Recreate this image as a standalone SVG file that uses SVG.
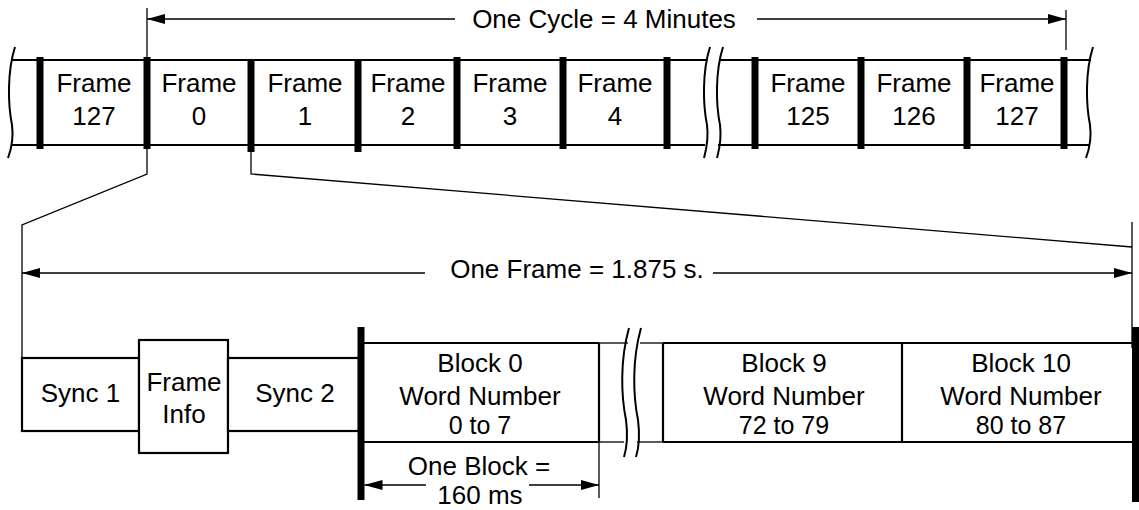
<svg xmlns="http://www.w3.org/2000/svg" width="1139" height="510" viewBox="0 0 1139 510">
<defs>
<style>
text{font-family:"Liberation Sans",Arial,sans-serif;font-size:26px;fill:#000;text-anchor:middle}
.tight{font-size:25px}
.thin{stroke:#000;stroke-width:1.3;fill:none}
.med{stroke:#000;stroke-width:2.2;fill:none}
.bar{stroke:#000;stroke-width:7;fill:none}
.wave{stroke:#000;stroke-width:2;fill:none}
.box{stroke:#000;stroke-width:2.2;fill:#fff}
</style>
<marker id="ah" viewBox="0 0 18 10" refX="18" refY="5" markerWidth="18" markerHeight="10" markerUnits="userSpaceOnUse" orient="auto-start-reverse">
<path d="M0,0 L18,5 L0,10 Z" fill="#000"/>
</marker>
</defs>

<g id="frame-strip">
<line class="med" x1="12" y1="60" x2="707" y2="60"/>
<line class="med" x1="12" y1="145" x2="705" y2="145"/>
<line class="med" x1="720" y1="60" x2="1091" y2="60"/>
<line class="med" x1="718" y1="145" x2="1089" y2="145"/>
<path class="wave" d="M15,47 C7,72 8,105 12,125 C14,140 11,150 8,158"/>
<path class="wave" d="M710,47 C702,72 703,105 707,125 C709,140 706,150 704,158"/>
<path class="wave" d="M723,47 C715,72 716,105 720,125 C722,140 719,150 717,158"/>
<path class="wave" d="M1093,47 C1085,72 1086,105 1090,125 C1092,140 1089,150 1086,158"/>
<g class="bars">
<line class="bar" x1="40" y1="57" x2="40" y2="149"/>
<line class="bar" x1="147" y1="57" x2="147" y2="149"/>
<line class="bar" x1="251" y1="59" x2="251" y2="152"/>
<line class="bar" x1="358" y1="59" x2="358" y2="152"/>
<line class="bar" x1="457" y1="57" x2="457" y2="149"/>
<line class="bar" x1="563" y1="57" x2="563" y2="149"/>
<line class="bar" x1="667" y1="57" x2="667" y2="149"/>
<line class="bar" x1="755" y1="57" x2="755" y2="149"/>
<line class="bar" x1="861" y1="57" x2="861" y2="149"/>
<line class="bar" x1="967" y1="57" x2="967" y2="149"/>
<line class="bar" x1="1064" y1="57" x2="1064" y2="149"/>
</g>
</g>

<g id="frame-127a"><text x="94" y="92">Frame</text><text x="94" y="125">127</text></g>
<g id="frame-0"><text x="199" y="92">Frame</text><text x="199" y="125">0</text></g>
<g id="frame-1"><text x="305" y="92">Frame</text><text x="305" y="125">1</text></g>
<g id="frame-2"><text x="408" y="92">Frame</text><text x="408" y="125">2</text></g>
<g id="frame-3"><text x="510" y="92">Frame</text><text x="510" y="125">3</text></g>
<g id="frame-4"><text x="615" y="92">Frame</text><text x="615" y="125">4</text></g>
<g id="frame-125"><text x="808" y="92">Frame</text><text x="808" y="125">125</text></g>
<g id="frame-126"><text x="914" y="92">Frame</text><text x="914" y="125">126</text></g>
<g id="frame-127b"><text x="1017" y="92">Frame</text><text x="1017" y="125">127</text></g>

<g id="cycle-dim">
<line class="thin" x1="147" y1="8" x2="147" y2="57"/>
<line class="thin" x1="1066" y1="10" x2="1066" y2="50"/>
<line class="thin" x1="455" y1="19" x2="147" y2="19" marker-end="url(#ah)"/>
<line class="thin" x1="757" y1="19" x2="1066" y2="19" marker-end="url(#ah)"/>
<text x="604" y="27.5">One Cycle = 4 Minutes</text>
</g>

<g id="connectors">
<polyline class="thin" points="147,149 147,174 22,225 22,358"/>
<polyline class="thin" points="251,152 251,174 1132,247"/>
<line class="thin" x1="1132" y1="222" x2="1132" y2="348"/>
<line class="thin" x1="425" y1="273" x2="22" y2="273" marker-end="url(#ah)"/>
<line class="thin" x1="713" y1="273" x2="1132" y2="273" marker-end="url(#ah)"/>
</g>
<g id="frame-dim-label"><text x="577" y="278">One Frame = 1.875 s.</text></g>

<g id="sync1"><rect class="box" x="22" y="358" width="117" height="73"/><text x="80.5" y="402">Sync 1</text></g>
<g id="frame-info"><rect class="box" x="139" y="340" width="89" height="113"/><text x="184" y="391">Frame</text><text x="184" y="423">Info</text></g>
<g id="sync2"><rect class="box" x="228" y="358" width="131" height="73"/><text x="295" y="402">Sync 2</text></g>

<g id="blocks">
<line class="med" x1="361" y1="343" x2="599" y2="343" stroke-width="2.6"/>
<line class="med" x1="361" y1="442" x2="599" y2="442" stroke-width="2.6"/>
<line class="thin" x1="599" y1="343" x2="628" y2="343" stroke-width="1.6"/>
<line class="thin" x1="599" y1="442" x2="624" y2="442" stroke-width="1.6"/>
<line class="thin" x1="640" y1="343" x2="663" y2="343" stroke-width="1.6"/>
<line class="thin" x1="637" y1="442" x2="663" y2="442" stroke-width="1.6"/>
<line class="med" x1="663" y1="343" x2="1135" y2="343" stroke-width="2.6"/>
<line class="med" x1="663" y1="442" x2="1135" y2="442" stroke-width="2.6"/>
<line class="med" x1="599" y1="343" x2="599" y2="442"/>
<line class="med" x1="663" y1="343" x2="663" y2="442"/>
<line class="med" x1="902" y1="343" x2="902" y2="442"/>
<path class="wave" d="M629,328 C620,360 621,395 626,420 C628,435 627,447 624,457"/>
<path class="wave" d="M641,328 C632,360 633,395 638,420 C640,435 639,447 636,457"/>
<line class="bar" x1="361" y1="327" x2="361" y2="500"/>
<line class="bar" x1="1135.5" y1="327" x2="1135.5" y2="502" stroke-width="5"/>
</g>
<g id="block-0"><text x="480" y="372">Block 0</text><text x="480" y="405">Word Number</text><text class="tight" x="480" y="434">0 to 7</text></g>
<g id="block-9"><text x="784" y="372">Block 9</text><text x="784" y="405">Word Number</text><text class="tight" x="784" y="434">72 to 79</text></g>
<g id="block-10"><text x="1021" y="372">Block 10</text><text x="1021" y="405">Word Number</text><text class="tight" x="1021" y="434">80 to 87</text></g>

<g id="block-dim">
<line class="thin" x1="599" y1="442" x2="599" y2="498"/>
<line class="thin" x1="426" y1="485" x2="364.5" y2="485" marker-end="url(#ah)"/>
<line class="thin" x1="529" y1="485" x2="599" y2="485" marker-end="url(#ah)"/>
<text x="479" y="475">One Block =</text>
<text x="480" y="504">160 ms</text>
</g>
</svg>
